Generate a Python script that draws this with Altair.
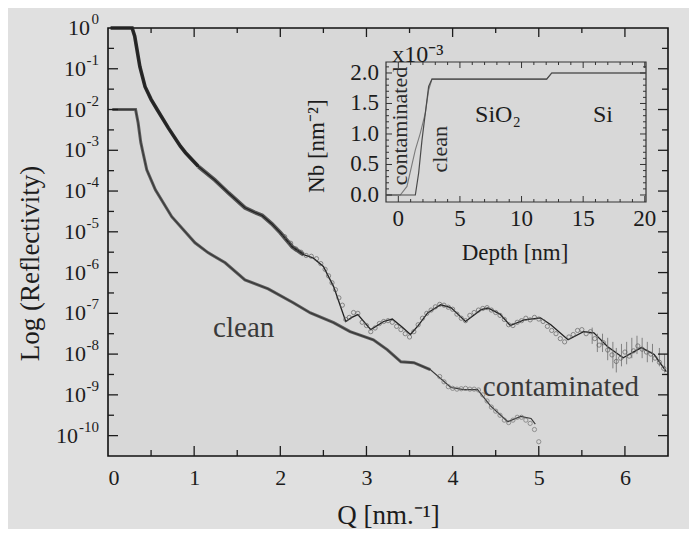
import altair as alt
import pandas as pd

# ---------------- main plot data (log10 of reflectivity) ----------------
upper_fit_q = [0.03, 0.28, 0.31, 0.33, 0.37, 0.43, 0.50, 0.57, 0.70, 0.84, 0.90, 1.05, 1.24, 1.40, 1.59, 1.70, 1.79, 1.90, 2.00, 2.14,
               2.27, 2.38, 2.50, 2.62, 2.70, 2.76, 2.83, 2.90, 3.05, 3.20, 3.30, 3.42, 3.51, 3.60, 3.71, 3.86, 3.98, 4.15, 4.33, 4.41,
               4.55, 4.67, 4.83, 5.02, 5.14, 5.34, 5.52, 5.64, 5.80, 5.98, 6.19, 6.34, 6.48]
upper_fit_logr = [0.0, 0.0, -0.2, -0.45, -0.95, -1.44, -1.75, -2.0, -2.45, -2.9, -3.06, -3.4, -3.73, -4.05, -4.41, -4.52, -4.6, -4.8, -5.02, -5.37,
                  -5.56, -5.64, -5.85, -6.35, -6.84, -7.2, -7.1, -7.03, -7.4, -7.2, -7.14, -7.35, -7.52, -7.3, -6.99, -6.79, -6.86, -7.2, -6.91, -6.87,
                  -7.02, -7.3, -7.16, -7.11, -7.28, -7.65, -7.45, -7.48, -7.82, -8.09, -7.84, -8.01, -8.43]

lower_fit_q = [0.05, 0.32, 0.35, 0.38, 0.40, 0.45, 0.55, 0.74, 1.01, 1.16, 1.36, 1.59, 1.86, 2.15, 2.35, 2.62, 2.81, 3.08, 3.24, 3.40,
               3.55, 3.74, 3.98, 4.13, 4.29, 4.44, 4.64, 4.79, 4.91, 4.96]
lower_fit_logr = [-2.0, -2.0, -2.33, -2.8, -3.0, -3.48, -3.97, -4.63, -5.27, -5.51, -5.76, -6.18, -6.4, -6.74, -6.99, -7.23, -7.45, -7.65, -7.89, -8.19,
                  -8.21, -8.38, -8.82, -8.87, -8.87, -9.27, -9.66, -9.53, -9.58, -9.72]

upper_pts_q = [2.05, 2.12, 2.18, 2.24, 2.30, 2.36, 2.42, 2.47, 2.52, 2.56, 2.60, 2.64, 2.68, 2.72, 2.76, 2.80, 2.85, 2.90, 2.95, 3.00,
               3.05, 3.10, 3.15, 3.20, 3.25, 3.30, 3.35, 3.40, 3.45, 3.50, 3.55, 3.60, 3.65, 3.70, 3.75, 3.80, 3.85, 3.90, 3.95, 4.00,
               4.05, 4.10, 4.15, 4.20, 4.25, 4.30, 4.35, 4.40, 4.45, 4.50, 4.55, 4.60, 4.65, 4.70, 4.75, 4.80, 4.85, 4.90, 4.95, 5.00,
               5.05, 5.10, 5.15, 5.20, 5.25, 5.30, 5.35, 5.40, 5.45, 5.50, 5.55, 5.60, 5.65, 5.70, 5.75, 5.80, 5.85, 5.90, 5.95, 6.00,
               6.05, 6.10, 6.15, 6.20, 6.25, 6.30, 6.35, 6.40, 6.45]
upper_pts_logr = [-5.12, -5.28, -5.42, -5.50, -5.58, -5.60, -5.66, -5.78, -5.92, -6.08, -6.25, -6.42, -6.62, -6.80, -7.15, -7.10, -6.98, -7.00, -7.22, -7.30,
                  -7.45, -7.36, -7.25, -7.20, -7.18, -7.22, -7.32, -7.40, -7.50, -7.58, -7.45, -7.28, -7.12, -7.00, -6.92, -6.84, -6.78, -6.80, -6.85, -6.90,
                  -7.02, -7.12, -7.18, -7.05, -6.98, -6.92, -6.88, -6.86, -6.92, -6.98, -7.05, -7.15, -7.28, -7.30, -7.22, -7.18, -7.12, -7.16, -7.10, -7.14,
                  -7.20, -7.32, -7.42, -7.50, -7.62, -7.70, -7.58, -7.52, -7.42, -7.40, -7.50, -7.45, -7.62, -7.78, -7.72, -7.90, -8.02, -8.18, -8.10, -7.95,
                  -8.05, -7.92, -7.80, -7.88, -7.95, -8.00, -8.10, -8.20, -8.35]

lower_pts_q = [3.85, 3.90, 3.95, 4.00, 4.05, 4.10, 4.15, 4.20, 4.25, 4.30, 4.35, 4.40, 4.45, 4.50, 4.55, 4.60, 4.65, 4.70, 4.75, 4.80,
               4.85, 4.90, 4.95, 5.00]
lower_pts_logr = [-8.55, -8.68, -8.80, -8.84, -8.86, -8.85, -8.84, -8.86, -8.86, -8.88, -9.00, -9.15, -9.30, -9.40, -9.50, -9.62, -9.68, -9.62, -9.55, -9.55,
                  -9.62, -9.70, -9.85, -10.15]

err_q = [5.62, 5.68, 5.74, 5.80, 5.86, 5.90, 5.96, 6.02, 6.08, 6.14, 6.20, 6.26, 6.32, 6.40, 6.46]
err_lo = [-7.75, -7.95, -7.95, -8.15, -8.35, -8.45, -8.30, -8.25, -8.10, -8.00, -8.10, -8.20, -8.20, -8.30, -8.45]
err_hi = [-7.35, -7.50, -7.50, -7.60, -7.70, -7.85, -7.75, -7.70, -7.60, -7.55, -7.60, -7.70, -7.75, -7.85, -8.00]

label_text = ["clean", "contaminated"]
label_q = [1.22, 4.35]
label_logr = [-7.57, -9.04]

y_tick_values = [0, -1, -2, -3, -4, -5, -6, -7, -8, -9, -10]
y_tick_exps = ["0", "-1", "-2", "-3", "-4", "-5", "-6", "-7", "-8", "-9", "-10"]
x_tick_values = [0, 1, 2, 3, 4, 5, 6]
y_minor = [-9.5, -8.5, -7.5, -6.5, -5.5, -4.5, -3.5, -2.5, -1.5, -0.5]
y_major = [-10, -9, -8, -7, -6, -5, -4, -3, -2, -1]
x_minor = [0.5, 1.5, 2.5, 3.5, 4.5, 5.5]
x_major = [1, 2, 3, 4, 5, 6]

# ---------------- inset data ----------------
contam_depth = [-1.0, 0.16, 0.70, 1.38, 1.78, 2.19, 2.46, 2.73, 12.04, 12.45, 20.1]
contam_nb = [0.0, 0.0, 0.14, 0.74, 1.01, 1.34, 1.72, 1.90, 1.90, 2.00, 2.00]
clean_depth = [-1.0, 1.38, 1.65, 1.92, 2.19, 2.46, 2.73, 12.04, 12.45, 20.1]
clean_nb = [0.0, 0.0, 0.36, 0.90, 1.34, 1.78, 1.90, 1.90, 2.00, 2.00]

inset_x_labels = [0, 5, 10, 15, 20]
inset_y_labels = [0.0, 0.5, 1.0, 1.5, 2.0]
inset_y_label_text = ["0.0", "0.5", "1.0", "1.5", "2.0"]
inset_x_minor = [i for i in range(0, 21) if i % 5 != 0]
inset_y_minor = [0.1, 0.2, 0.3, 0.4, 0.6, 0.7, 0.8, 0.9, 1.1, 1.2, 1.3, 1.4, 1.6, 1.7, 1.8, 1.9, 2.1]

inset_text = ["SiO₂", "Si", "x10⁻³"]
inset_text_d = [6.23, 15.8, -0.49]
inset_text_nb = [1.2, 1.2, 2.18]
inset_rot_text = ["contaminated", "clean"]
inset_rot_d = [0.16, 3.4]
inset_rot_nb = [1.13, 0.75]
inset_title_text = ["Nb [nm⁻²]", "Depth [nm]"]
inset_title_d = [-6.56, 9.47]
inset_title_nb = [0.8, -0.95]
inset_title_angle = [270, 0]

FONT = "Liberation Serif"
INK = "#1c1c1c"
W, H = 560, 428

xs = alt.Scale(domain=[0, 6.5], nice=False, zero=False)
ys = alt.Scale(domain=[-10.5, 0], nice=False, zero=False)

xaxis = alt.Axis(values=x_tick_values, format="d", ticks=False, domain=False, grid=False,
                 labelFont=FONT, labelFontSize=22, labelColor=INK, labelPadding=11,
                 title="Q [nm.⁻¹]", titleFont=FONT, titleFontSize=27, titleFontWeight="normal",
                 titleColor=INK, titleX=280, titleY=67, titleBaseline="alphabetic", titleAlign="center")
yaxis = alt.Axis(values=y_tick_values, labels=False, ticks=False, domain=False, grid=False,
                 title="Log (Reflectivity)", titleFont=FONT, titleFontSize=27, titleFontWeight="normal",
                 titleColor=INK, titleX=-78, titleY=235, titleBaseline="middle", titleAlign="center", titleAngle=270)


def X(f):
    return alt.X(f, type="quantitative", scale=xs, axis=xaxis)


def Y(f):
    return alt.Y(f, type="quantitative", scale=ys, axis=yaxis)


up_df = pd.DataFrame({"q": upper_fit_q, "r": upper_fit_logr})
lo_df = pd.DataFrame({"q": lower_fit_q, "r": lower_fit_logr})

upper_band = alt.Chart(up_df).transform_filter("datum.q <= 1.15").mark_line(
    color="#2a2a2a", strokeWidth=3.6).encode(x=X("q"), y=Y("r"))
upper_band2 = alt.Chart(up_df).transform_filter("datum.q >= 1.0 && datum.q <= 2.3").mark_line(
    color="#555555", strokeWidth=4).encode(x=X("q"), y=Y("r"))
lower_band = alt.Chart(lo_df).transform_filter("datum.q <= 3.9").mark_line(
    color="#5e5e5e", strokeWidth=3).encode(x=X("q"), y=Y("r"))
upper_line = alt.Chart(up_df).mark_line(color="#222222", strokeWidth=1.3).encode(x=X("q"), y=Y("r"))
lower_line = alt.Chart(lo_df).mark_line(color="#3a3a3a", strokeWidth=1.2).encode(x=X("q"), y=Y("r"))

err = alt.Chart(pd.DataFrame({"q": err_q, "lo": err_lo, "hi": err_hi})).mark_rule(
    color="#777777", strokeWidth=0.9).encode(x=X("q"), y=Y("lo"), y2="hi")
up_pts = alt.Chart(pd.DataFrame({"q": upper_pts_q, "r": upper_pts_logr})).mark_point(
    shape="circle", filled=False, size=18, color="#555555", strokeWidth=0.9).encode(x=X("q"), y=Y("r"))
lo_pts = alt.Chart(pd.DataFrame({"q": lower_pts_q, "r": lower_pts_logr})).mark_point(
    shape="circle", filled=False, size=18, color="#666666", strokeWidth=0.9).encode(x=X("q"), y=Y("r"))

labels = alt.Chart(pd.DataFrame({"q": label_q, "r": label_logr, "t": label_text})).mark_text(
    align="left", baseline="alphabetic", font=FONT, fontSize=29, color="#3a3a3a").encode(
    x=X("q"), y=Y("r"), text="t:N")

# y tick labels: "10" plus a raised exponent
ylab_df = pd.DataFrame({"v": y_tick_values, "e": y_tick_exps})
exp_layer = alt.Chart(ylab_df).mark_text(
    align="right", baseline="middle", font=FONT, fontSize=15, color=INK, dy=-9).encode(
    y=Y("v"), x=alt.value(-9), text="e:N")
ten_layers = []
for n, xv in [(1, -18), (2, -22), (3, -30)]:
    ten_layers.append(
        alt.Chart(ylab_df).transform_filter(f"length(datum.e) == {n}").transform_calculate(t="'10'").mark_text(
            align="right", baseline="middle", font=FONT, fontSize=22, color=INK).encode(
            y=Y("v"), x=alt.value(xv), text="t:N"))


def yrule(vals, x0, x1):
    return alt.Chart(pd.DataFrame({"v": vals})).mark_rule(color=INK, strokeWidth=1.3).encode(
        y=Y("v"), x=alt.value(x0), x2=alt.value(x1))


def xrule(vals, y0, y1):
    return alt.Chart(pd.DataFrame({"v": vals})).mark_rule(color=INK, strokeWidth=1.3).encode(
        x=X("v"), y=alt.value(y0), y2=alt.value(y1))


main_ticks = [
    yrule(y_major, 0, 10), yrule(y_minor, 0, 6),
    yrule(y_major, W, W - 10), yrule(y_minor, W, W - 6),
    xrule(x_major, H, H - 10), xrule(x_minor, H, H - 6),
    xrule(x_major, 0, 9), xrule(x_minor, 0, 5),
]

main = alt.layer(lower_band, upper_band, upper_band2, lower_line, upper_line, err, up_pts, lo_pts,
                 labels, exp_layer, *ten_layers, *main_ticks)

# ---------------- inset ----------------
IX0, IX1, IY0, IY1 = 278, 538, 174, 34
ixs = alt.Scale(domain=[-1.0, 20.1], range=[IX0, IX1], nice=False, zero=False)
iys = alt.Scale(domain=[-0.115, 2.18], range=[IY0, IY1], nice=False, zero=False)


def IX(f):
    return alt.X(f, type="quantitative", scale=ixs, axis=None)


def IY(f):
    return alt.Y(f, type="quantitative", scale=iys, axis=None)


frame = alt.Chart(pd.DataFrame({"x0": [-1.0], "x1": [20.1], "y0": [-0.115], "y1": [2.18]})).mark_rect(
    fill="#d8d8d8", stroke="#333333", strokeWidth=1.2).encode(x=IX("x0"), x2="x1", y=IY("y0"), y2="y1")

contam = alt.Chart(pd.DataFrame({"d": contam_depth, "n": contam_nb})).mark_line(
    color="#7a7a7a", strokeWidth=1.1).encode(x=IX("d"), y=IY("n"))
clean = alt.Chart(pd.DataFrame({"d": clean_depth, "n": clean_nb})).mark_line(
    color="#4a4a4a", strokeWidth=1.2).encode(x=IX("d"), y=IY("n"))


def iyrule(vals, x0, x1):
    return alt.Chart(pd.DataFrame({"v": vals})).mark_rule(color="#333333", strokeWidth=1).encode(
        y=IY("v"), x=alt.value(x0), x2=alt.value(x1))


def ixrule(vals, y0, y1):
    return alt.Chart(pd.DataFrame({"v": vals})).mark_rule(color="#333333", strokeWidth=1).encode(
        x=IX("v"), y=alt.value(y0), y2=alt.value(y1))


inset_ticks = [
    iyrule(inset_y_labels, IX0, IX0 + 6), iyrule(inset_y_minor, IX0, IX0 + 3),
    iyrule(inset_y_labels, IX1, IX1 - 6), iyrule(inset_y_minor, IX1, IX1 - 3),
    ixrule(inset_x_labels, IY0, IY0 - 6), ixrule(inset_x_minor, IY0, IY0 - 3),
    ixrule(inset_x_labels, IY1, IY1 + 6), ixrule(inset_x_minor, IY1, IY1 + 3),
]

iy_lab = alt.Chart(pd.DataFrame({"v": inset_y_labels, "t": inset_y_label_text})).mark_text(
    align="right", baseline="middle", font=FONT, fontSize=23, color=INK).encode(
    y=IY("v"), x=alt.value(IX0 - 7), text="t:N")
ix_lab = alt.Chart(pd.DataFrame({"v": inset_x_labels, "t": [str(v) for v in inset_x_labels]})).mark_text(
    align="center", baseline="top", font=FONT, fontSize=23, color=INK).encode(
    x=IX("v"), y=alt.value(IY0 + 6), text="t:N")

i_text = alt.Chart(pd.DataFrame({"d": inset_text_d, "n": inset_text_nb, "t": inset_text})).mark_text(
    align="left", baseline="alphabetic", font=FONT, fontSize=24, color=INK).encode(
    x=IX("d"), y=IY("n"), text="t:N")
i_rot = alt.Chart(pd.DataFrame({"d": inset_rot_d, "n": inset_rot_nb, "t": inset_rot_text})).mark_text(
    align="center", baseline="middle", angle=270, font=FONT, fontSize=22, color="#2a2a2a").encode(
    x=IX("d"), y=IY("n"), text="t:N")

i_titles = alt.Chart(pd.DataFrame({"d": inset_title_d, "n": inset_title_nb, "t": inset_title_text,
                                   "a": inset_title_angle})).mark_text(
    align="center", baseline="middle", font=FONT, fontSize=23, color=INK).encode(
    x=IX("d"), y=IY("n"), text="t:N", angle=alt.Angle("a:Q", scale=None))

inset = alt.layer(frame, contam, clean, *inset_ticks, iy_lab, ix_lab, i_text, i_rot, i_titles)

chart = alt.layer(main, inset).resolve_scale(x="independent", y="independent").properties(
    width=W, height=H,
    autosize=alt.AutoSizeParams(type="none"),
    padding={"left": 100, "top": 20, "right": 21, "bottom": 73},
    background="#e0e0e0",
).configure_view(stroke="#111111", strokeWidth=1.6, fill="#d8d8d8")

chart.save("out.html", embed_options={"renderer": "svg", "actions": False})
